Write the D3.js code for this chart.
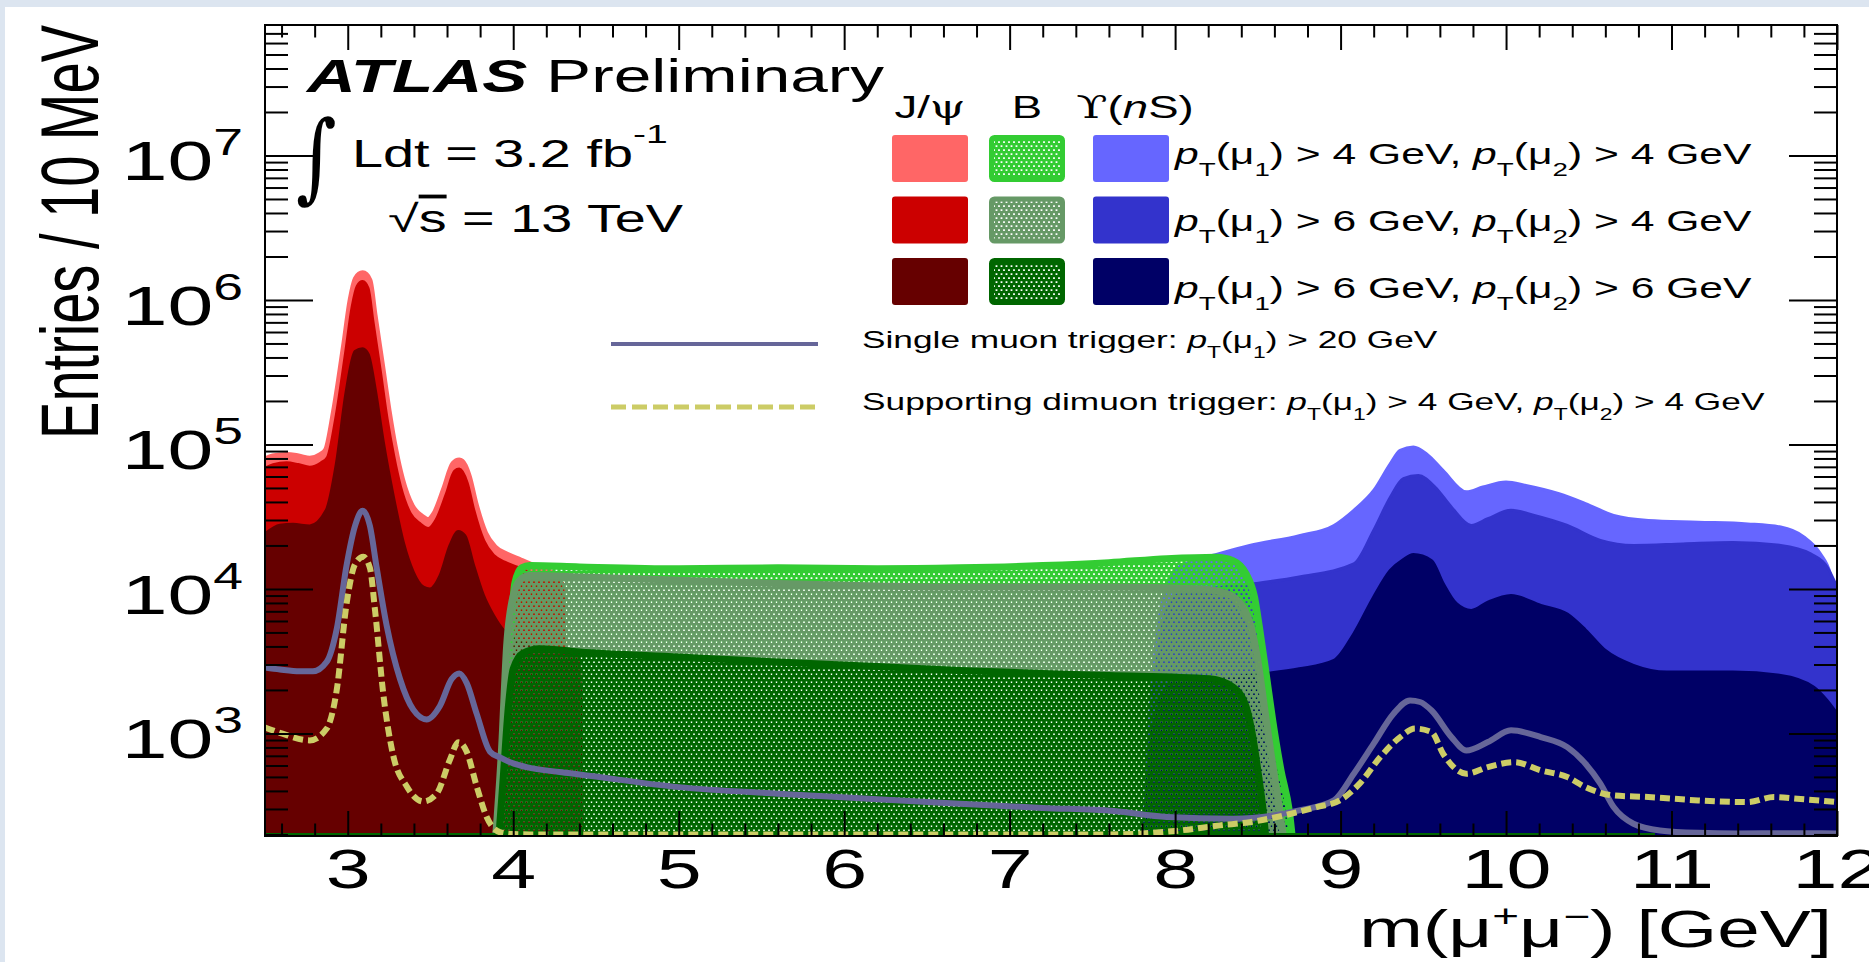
<!DOCTYPE html>
<html>
<head>
<meta charset="utf-8">
<script src="https://cdn.jsdelivr.net/npm/d3@7"></script>
<style>
  body { margin: 0; background: #fff; }
  svg { display: block; font-family: "Liberation Sans", Arial, Helvetica, sans-serif; }
  text { white-space: pre; }
</style>
</head>
<body>
<svg id="chart" width="1869" height="962"></svg>
<script>
'use strict';

// ---- data: [mass in GeV, entries / 10 MeV] ----
const jpsi44 = [[2.50, 7.6e4], [2.55, 8.0e4], [2.63, 8.2e4], [2.70, 8.0e4], [2.77, 7.7e4], [2.84, 8.2e4],
    [2.88, 9.0e4], [2.93, 1.7e5], [2.99, 4.8e5], [3.03, 1.0e6], [3.06, 1.38e6], [3.09, 1.48e6], [3.12, 1.35e6],
    [3.15, 7.8e5], [3.195, 3.5e5], [3.235, 1.7e5], [3.275, 9.2e4], [3.316, 5.7e4], [3.376, 3.7e4], [3.437, 3.1e4],
    [3.487, 2.9e4], [3.537, 3.3e4], [3.598, 5.0e4], [3.648, 7.2e4], [3.674, 7.5e4], [3.719, 6.0e4], [3.759, 3.9e4],
    [3.819, 2.4e4], [3.879, 1.9e4], [3.96, 1.67e4], [4.04, 1.53e4], [4.12, 1.4e4], [4.20, 1.3e4], [4.25, 1.2e4],
    [4.27, 100]];
const jpsi64 = [[2.50, 6.8e4], [2.55, 7.2e4], [2.63, 7.4e4], [2.70, 7.2e4], [2.77, 6.9e4], [2.84, 7.4e4],
    [2.88, 8.1e4], [2.93, 1.5e5], [2.99, 4.3e5], [3.03, 9.0e5], [3.06, 1.24e6], [3.09, 1.33e6], [3.12, 1.2e6],
    [3.15, 7.0e5], [3.195, 3.15e5], [3.235, 1.5e5], [3.275, 8.3e4], [3.316, 5.1e4], [3.376, 3.3e4], [3.437, 2.8e4],
    [3.487, 2.6e4], [3.537, 3.0e4], [3.598, 4.5e4], [3.648, 6.5e4], [3.674, 6.7e4], [3.719, 5.4e4], [3.759, 3.5e4],
    [3.819, 2.15e4], [3.879, 1.7e4], [3.96, 1.5e4], [4.04, 1.38e4], [4.12, 1.26e4], [4.20, 1.17e4], [4.30, 1.08e4],
    [4.32, 100]];
const jpsi66 = [[2.50, 2.4e4], [2.59, 2.76e4], [2.67, 2.8e4], [2.77, 2.73e4], [2.87, 3.5e4], [2.93, 7.2e4],
    [2.99, 2.3e5], [3.044, 4.4e5], [3.09, 4.6e5], [3.124, 4.2e5], [3.165, 2.45e5], [3.215, 1.04e5], [3.275, 4.4e4],
    [3.336, 2.1e4], [3.396, 1.31e4], [3.457, 1.03e4], [3.497, 1.0e4], [3.557, 1.23e4], [3.618, 2.0e4], [3.668, 2.5e4],
    [3.708, 2.34e4], [3.759, 1.48e4], [3.819, 9.1e3], [3.879, 6.6e3], [3.94, 5.2e3], [4.00, 4.6e3], [4.10, 4.1e3],
    [4.20, 3.8e3], [4.30, 3.6e3], [4.40, 3.4e3], [4.42, 100]];

const b44 = [[3.90, 100], [3.95, 800], [3.98, 4e3], [4.01, 1.1e4], [4.05, 1.4e4], [4.10, 1.45e4], [4.40, 1.42e4],
    [5.00, 1.38e4], [5.60, 1.40e4], [6.20, 1.38e4], [6.70, 1.40e4], [7.20, 1.45e4], [7.60, 1.52e4], [7.95, 1.62e4],
    [8.25, 1.66e4], [8.35, 1.57e4], [8.43, 1.27e4], [8.48, 8.8e3], [8.51, 5.4e3], [8.55, 2.6e3], [8.59, 1.23e3],
    [8.64, 555], [8.69, 293], [8.72, 150], [8.75, 100]];
const b64 = [[3.88, 100], [3.93, 800], [3.96, 4e3], [4.00, 9e3], [4.05, 1.18e4], [4.10, 1.24e4], [4.40, 1.21e4],
    [5.00, 1.15e4], [5.60, 1.09e4], [6.20, 1.05e4], [6.70, 1.03e4], [7.20, 1.03e4], [7.60, 1.03e4], [8.15, 1.0e4],
    [8.31, 9.3e3], [8.41, 7.5e3], [8.46, 5.4e3], [8.50, 3.2e3], [8.54, 1.52e3], [8.58, 723], [8.62, 363],
    [8.66, 180], [8.70, 100]];
const b66 = [[3.90, 100], [3.94, 500], [3.97, 1.5e3], [4.00, 2.8e3], [4.06, 3.6e3], [4.16, 3.86e3], [4.40, 3.66e3],
    [5.00, 3.38e3], [5.60, 3.12e3], [6.20, 2.9e3], [6.70, 2.73e3], [7.20, 2.6e3], [7.60, 2.52e3], [8.21, 2.39e3],
    [8.35, 2.09e3], [8.43, 1.52e3], [8.47, 943], [8.50, 555], [8.53, 309], [8.56, 150], [8.60, 100]];

const ups44 = [[7.80, 100], [7.85, 1.5e3], [7.92, 8e3], [8.00, 1.35e4], [8.10, 1.55e4], [8.23, 1.71e4], [8.45, 2.0e4],
    [8.75, 2.34e4], [8.96, 2.75e4], [9.08, 3.5e4], [9.20, 4.8e4], [9.30, 7.35e4], [9.36, 9.1e4], [9.44, 9.6e4],
    [9.52, 8.6e4], [9.62, 6.6e4], [9.76, 4.7e4], [9.86, 5.07e4], [10.00, 5.5e4], [10.12, 5.2e4], [10.32, 4.56e4],
    [10.48, 3.9e4], [10.65, 3.23e4], [10.86, 2.98e4], [11.16, 2.9e4], [11.46, 2.82e4], [11.66, 2.68e4],
    [11.80, 2.29e4], [11.90, 1.75e4], [11.96, 1.27e4], [12.00, 7.5e3]];
const ups64 = [[7.80, 100], [7.85, 1e3], [7.93, 6e3], [8.00, 9e3], [8.20, 1.0e4], [8.49, 1.09e4], [8.75, 1.21e4],
    [9.08, 1.49e4], [9.20, 2.54e4], [9.30, 4.3e4], [9.38, 5.8e4], [9.47, 6.1e4], [9.57, 5.07e4], [9.67, 3.68e4],
    [9.79, 2.75e4], [9.89, 3.06e4], [10.03, 3.5e4], [10.17, 3.23e4], [10.37, 2.75e4], [10.57, 2.17e4],
    [10.77, 2.0e4], [11.07, 2.05e4], [11.37, 2.1e4], [11.66, 2.0e4], [11.84, 1.75e4], [11.94, 1.42e4],
    [12.00, 1.03e4]];
const ups66 = [[7.80, 100], [7.85, 800], [7.92, 1.8e3], [8.00, 2.3e3], [8.30, 2.45e3], [8.53, 2.59e3], [8.75, 2.8e3],
    [8.96, 3.2e3], [9.08, 4.9e3], [9.20, 8.8e3], [9.30, 1.34e4], [9.38, 1.6e4], [9.44, 1.73e4], [9.55, 1.57e4],
    [9.62, 1.09e4], [9.70, 7.9e3], [9.79, 7.1e3], [9.89, 8.1e3], [10.03, 9.0e3], [10.21, 7.7e3], [10.37, 6.7e3],
    [10.48, 5.2e3], [10.60, 3.75e3], [10.77, 2.96e3], [10.97, 2.66e3], [11.37, 2.66e3], [11.66, 2.52e3],
    [11.86, 2.09e3], [11.94, 1.69e3], [12.00, 1.37e3]];

const singleMuon = [[2.50, 2.86e3], [2.59, 2.77e3], [2.71, 2.69e3], [2.79, 2.69e3], [2.873, 3.13e3], [2.933, 5.25e3],
    [2.994, 1.48e4], [3.044, 2.73e4], [3.09, 3.48e4], [3.134, 2.73e4], [3.175, 1.4e4], [3.235, 5.6e3], [3.316, 2.38e3],
    [3.396, 1.46e3], [3.477, 1.25e3], [3.557, 1.55e3], [3.628, 2.38e3], [3.674, 2.6e3], [3.719, 2.23e3],
    [3.779, 1.37e3], [3.86, 747], [3.92, 682], [4.00, 620], [4.08, 585], [4.28, 540], [4.40, 520], [5.00, 425],
    [5.60, 383], [6.20, 350], [6.70, 326], [7.20, 305], [7.63, 290], [7.95, 264], [8.35, 257], [8.75, 293],
    [8.96, 344], [9.08, 526], [9.20, 849], [9.32, 1.37e3], [9.42, 1.69e3], [9.48, 1.65e3], [9.55, 1.44e3],
    [9.67, 943], [9.76, 762], [9.89, 871], [10.03, 1.05e3], [10.21, 943], [10.37, 804], [10.48, 617], [10.57, 449],
    [10.65, 309], [10.77, 237], [10.93, 213], [11.16, 205], [11.40, 203], [11.70, 204], [12.00, 203]];
const dimuonSupport = [[2.50, 1.1e3], [2.59, 1.01e3], [2.77, 895], [2.873, 1.08e3], [2.933, 1.98e3], [2.994, 8.05e3],
    [3.044, 1.48e4], [3.094, 1.67e4], [3.134, 1.4e4], [3.165, 7.1e3], [3.215, 1.87e3], [3.275, 702], [3.356, 431],
    [3.457, 338], [3.537, 382], [3.618, 660], [3.668, 869], [3.719, 747], [3.779, 431], [3.839, 265], [3.92, 207],
    [4.00, 201], [4.10, 200], [7.60, 200], [8.03, 213], [8.27, 231], [8.45, 243], [8.70, 278], [8.855, 309],
    [8.995, 344], [9.115, 449], [9.24, 686], [9.36, 943], [9.45, 1.08e3], [9.55, 1.02e3], [9.62, 723], [9.76, 526],
    [9.89, 585], [10.05, 633], [10.21, 555], [10.37, 499], [10.48, 425], [10.65, 372], [10.86, 363], [11.16, 344],
    [11.46, 335], [11.62, 363], [11.76, 353], [12.00, 335]];

// zero-level outline of the B histograms along the floor
const bFloor = [2.5, 10.9];

const xTickLabels = [3, 4, 5, 6, 7, 8, 9, 10, 11, 12];
const yDecades = [3, 4, 5, 6, 7];
const cutRows = [["4", "4"], ["6", "4"], ["6", "6"]];

// ---- page ----
const W = 1869, H = 962, SX = 1.47;   // text is drawn horizontally stretched, like the picture
const svg = d3.select("#chart");
const margin = { left: 265, right: 1837, top: 25, bottom: 836 };

svg.append("rect").attr("width", W).attr("height", H).attr("fill", "#fff");
svg.append("rect").attr("width", W).attr("height", 7).attr("fill", "#dce5f0");
svg.append("rect").attr("width", 5).attr("height", H).attr("fill", "#dce5f0");

const x = d3.scaleLinear().domain([2.5, 12]).range([margin.left, margin.right]);
const y = d3.scaleLog().domain([195, 8e7]).range([margin.bottom, margin.top]);
const yv = v => y(Math.max(v, 120));

const defs = svg.append("defs");
defs.append("clipPath").attr("id", "plotclip")
    .append("rect")
    .attr("x", margin.left).attr("y", margin.top)
    .attr("width", margin.right - margin.left).attr("height", margin.bottom - margin.top);

const addDots = (id, color) => {
    defs.append("pattern")
        .attr("id", id)
        .attr("patternUnits", "userSpaceOnUse")
        .attr("width", 5).attr("height", 8)
        .append("path")
        .attr("d", "M0,0H5V8H0Z M0.6,1.2h1.8v1.8h-1.8Z M3.1,5.2h1.8v1.8h-1.8Z")
        .attr("fill-rule", "evenodd")
        .attr("fill", color);
};

const hists = [
    { data: jpsi44, color: "#ff6666", width: 10 },
    { data: jpsi64, color: "#cc0000", width: 4 },
    { data: jpsi66, color: "#660000", width: 3 },
    { data: ups44, color: "#6666ff", width: 3 },
    { data: ups64, color: "#3333cc", width: 3 },
    { data: ups66, color: "#000066", width: 3 },
    { data: b44, color: "#33cc33", width: 7, dots: "dotsB44" },
    { data: b64, color: "#669966", width: 7, dots: "dotsB64" },
    { data: b66, color: "#006600", width: 7, dots: "dotsB66" }
];
hists.filter(h => h.dots).forEach(h => addDots(h.dots, h.color));

const area = d3.area()
    .curve(d3.curveMonotoneX)
    .x(d => x(d[0]))
    .y0(margin.bottom + 10)
    .y1(d => yv(d[1]));
const line = d3.line()
    .curve(d3.curveMonotoneX)
    .x(d => x(d[0]))
    .y(d => yv(d[1]));

const plot = svg.append("g").attr("clip-path", "url(#plotclip)");

hists.forEach(h => {
    plot.append("path")
        .datum(h.data)
        .attr("d", area)
        .attr("fill", h.dots ? `url(#${h.dots})` : h.color);
    plot.append("path")
        .datum(h.data)
        .attr("d", line)
        .attr("fill", "none")
        .attr("stroke", h.color)
        .attr("stroke-width", h.width)
        .attr("stroke-linejoin", "round");
});

plot.append("line")
    .attr("x1", x(bFloor[0])).attr("x2", x(bFloor[1]))
    .attr("y1", margin.bottom - 1.5).attr("y2", margin.bottom - 1.5)
    .attr("stroke", "#006600").attr("stroke-width", 3);

plot.append("path")
    .datum(singleMuon)
    .attr("d", line)
    .attr("fill", "none")
    .attr("stroke", "#666699")
    .attr("stroke-width", 6)
    .attr("stroke-linejoin", "round");

plot.append("path")
    .datum(dimuonSupport)
    .attr("d", line)
    .attr("fill", "none")
    .attr("stroke", "#cccc66")
    .attr("stroke-width", 6)
    .attr("stroke-dasharray", "10,5");

// ---- frame and ticks (ROOT style, inward, on all four sides) ----
const xMinor = d3.range(2.6, 12.0, 0.2).filter(v => Math.abs(v - Math.round(v)) > 0.01);
const yMinor = [];
yDecades.concat([2]).forEach(d => {
    for (let k = 2; k <= 9; k++) {
        const v = k * Math.pow(10, d);
        if (v > 195 && v < 8e7) yMinor.push(v);
    }
});
const yMajor = yDecades.map(d => Math.pow(10, d));

const axes = svg.append("g");
const addAxis = (axis, tx, ty) => {
    const g = axes.append("g").attr("transform", `translate(${tx},${ty})`).call(axis);
    g.select(".domain").remove();
    g.selectAll("line").attr("stroke", "#000").attr("stroke-width", 2);
    return g;
};

const xLabels = addAxis(d3.axisBottom(x).tickValues(xTickLabels).tickSizeInner(-25).tickSizeOuter(0).tickPadding(13),
    0, margin.bottom);
xLabels.selectAll("text")
    .attr("transform", `scale(${SX},1)`)
    .attr("font-size", 55)
    .attr("font-family", "'Liberation Sans', Arial, sans-serif")
    .attr("fill", "#000");
addAxis(d3.axisBottom(x).tickValues(xMinor).tickSizeInner(-12.5).tickSizeOuter(0).tickFormat(""), 0, margin.bottom);
addAxis(d3.axisTop(x).tickValues(xTickLabels).tickSizeInner(-25).tickSizeOuter(0).tickFormat(""), 0, margin.top);
addAxis(d3.axisTop(x).tickValues(xMinor).tickSizeInner(-12.5).tickSizeOuter(0).tickFormat(""), 0, margin.top);
addAxis(d3.axisLeft(y).tickValues(yMajor).tickSizeInner(-48).tickSizeOuter(0).tickFormat(""), margin.left, 0);
addAxis(d3.axisLeft(y).tickValues(yMinor).tickSizeInner(-23).tickSizeOuter(0).tickFormat(""), margin.left, 0);
addAxis(d3.axisRight(y).tickValues(yMajor).tickSizeInner(-48).tickSizeOuter(0).tickFormat(""), margin.right, 0);
addAxis(d3.axisRight(y).tickValues(yMinor).tickSizeInner(-23).tickSizeOuter(0).tickFormat(""), margin.right, 0);

axes.append("rect")
    .attr("x", margin.left).attr("y", margin.top)
    .attr("width", margin.right - margin.left).attr("height", margin.bottom - margin.top)
    .attr("fill", "none").attr("stroke", "#000").attr("stroke-width", 2);

// ---- text helper: simple TLatex-like runs ----
const rich = (parent, tx, ty, size, parts, anchor = "start", opt = {}) => {
    const sub = opt.sub ?? 0.42, sup = opt.sup ?? 0.45, small = opt.small ?? 0.65;
    const t = parent.append("text")
        .attr("transform", `translate(${tx},${ty}) scale(${SX},1)`)
        .attr("font-size", size)
        .attr("text-anchor", anchor)
        .attr("fill", "#000");
    let shift = 0;
    parts.forEach(([str, kind]) => {
        const target = kind === "sub" ? sub * size : kind === "sup" ? -sup * size : 0;
        const ts = t.append("tspan").attr("dy", target - shift).text(str);
        shift = target;
        if (kind === "sub" || kind === "sup") ts.attr("font-size", small * size);
        if (kind === "i") ts.attr("font-style", "italic");
        if (kind === "bi") ts.attr("font-style", "italic").attr("font-weight", "bold");
        if (kind === "ol") ts.attr("text-decoration", "overline");
        if (kind === "sym") ts.attr("font-family", "'DejaVu Serif', serif");
    });
    return t;
};

const txt = svg.append("g");

yDecades.forEach(d => rich(txt, 243, y(Math.pow(10, d)) + 25, 56, [["10", "n"], [String(d), "sup"]], "end"));

txt.append("text")
    .attr("transform", `translate(98,${margin.top}) scale(${SX},1) rotate(-90)`)
    .attr("text-anchor", "end")
    .attr("font-size", 56)
    .text("Entries / 10 MeV");

rich(txt, 1832, 947, 52, [["m(μ", "n"], ["+", "sup"], ["μ", "n"], ["−", "sup"], [") [GeV]", "n"]], "end",
    { sup: 0.38, small: 0.6 });

rich(txt, 307, 92, 46, [["ATLAS", "bi"], [" Preliminary", "n"]]);
txt.append("text")
    .attr("transform", "translate(296,190) scale(1,1.25)")
    .attr("font-size", 78)
    .attr("font-family", "'DejaVu Serif', serif")
    .text("∫");
rich(txt, 352, 167, 38, [["Ldt = 3.2 fb", "n"], ["-1", "sup"]], "start", { sup: 0.62, small: 0.7 });
rich(txt, 388, 232, 38, [["√", "n"], ["s", "ol"], [" = 13 TeV", "n"]]);

// ---- legend ----
const legCols = [
    { cx: 930, head: [["J/", "n"], ["ψ", "sym"]], colors: ["#ff6666", "#cc0000", "#660000"] },
    { cx: 1027, head: [["B", "n"]], colors: ["#33cc33", "#669966", "#006600"], dots: ["dotsB44", "dotsB64", "dotsB66"] },
    { cx: 1131, head: [["ϒ", "sym"], ["(", "n"], ["n", "i"], ["S)", "n"]], colors: ["#6666ff", "#3333cc", "#000066"] }
];
const leg = svg.append("g");
legCols.forEach((c, ci) => {
    rich(leg, c.cx + (ci === 2 ? 4 : 0), 118, 31, c.head, "middle");
    cutRows.forEach((r, i) => {
        const top = 135 + i * 61.5;
        leg.append("rect")
            .attr("x", c.cx - 38 + (c.dots ? 2.5 : 0)).attr("y", top + (c.dots ? 2.5 : 0))
            .attr("width", c.dots ? 71 : 76).attr("height", c.dots ? 42 : 47)
            .attr("rx", 3)
            .attr("fill", c.dots ? `url(#${c.dots[i]})` : c.colors[i])
            .attr("stroke", c.dots ? c.colors[i] : "none")
            .attr("stroke-width", 5);
    });
});
cutRows.forEach((r, i) => {
    rich(leg, 1175, 164 + i * 67, 29, [["p", "i"], ["T", "sub"], ["(μ", "n"], ["1", "sub"], [`) > ${r[0]} GeV, `, "n"],
        ["p", "i"], ["T", "sub"], ["(μ", "n"], ["2", "sub"], [`) > ${r[1]} GeV`, "n"]]);
});

leg.append("line")
    .attr("x1", 611).attr("x2", 818).attr("y1", 344).attr("y2", 344)
    .attr("stroke", "#666699").attr("stroke-width", 4);
rich(leg, 862, 348, 24, [["Single muon trigger: ", "n"], ["p", "i"], ["T", "sub"], ["(μ", "n"], ["1", "sub"],
    [") > 20 GeV", "n"]]);

leg.append("line")
    .attr("x1", 611).attr("x2", 815).attr("y1", 407).attr("y2", 407)
    .attr("stroke", "#cccc66").attr("stroke-width", 5).attr("stroke-dasharray", "15,6");
rich(leg, 862, 410, 24, [["Supporting dimuon trigger: ", "n"], ["p", "i"], ["T", "sub"], ["(μ", "n"], ["1", "sub"],
    [") > 4 GeV, ", "n"], ["p", "i"], ["T", "sub"], ["(μ", "n"], ["2", "sub"], [") > 4 GeV", "n"]]);
</script>
</body>
</html>
